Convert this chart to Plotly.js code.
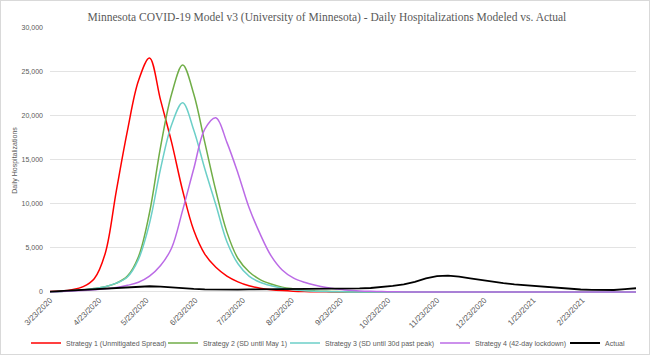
<!DOCTYPE html>
<html><head><meta charset="utf-8">
<script src="https://cdn.plot.ly/plotly-3.0.1.min.js"></script>
<style>
html,body{margin:0;padding:0;background:#fff;}
#chart{width:650px;height:355px;box-sizing:border-box;border:1px solid #D9D9D9;}
</style></head>
<body><div id="chart"></div>
<script>
const dates = ["2020-03-23","2020-03-30","2020-04-06","2020-04-13","2020-04-20","2020-04-27","2020-05-04","2020-05-11","2020-05-18","2020-05-25",
"2020-06-01","2020-06-08","2020-06-15","2020-06-22","2020-06-29","2020-07-06","2020-07-13","2020-07-20","2020-07-27","2020-08-03",
"2020-08-10","2020-08-17","2020-08-24","2020-08-31","2020-09-07","2020-09-14","2020-09-21","2020-09-28","2020-10-05","2020-10-12",
"2020-10-19","2020-10-26","2020-11-02","2020-11-09","2020-11-16","2020-11-23","2020-11-30","2020-12-07","2020-12-14","2020-12-21",
"2020-12-28","2021-01-04","2021-01-11","2021-01-18","2021-01-25","2021-02-01","2021-02-08","2021-02-15","2021-02-22","2021-03-01",
"2021-03-08","2021-03-15","2021-03-22","2021-03-29"];

const strategy1 = [50,100,250,600,1500,4400,11500,18300,24000,26600,
21800,17000,11500,7000,4300,2800,1800,1150,700,430,
260,150,80,40,20,10,0,0,0,0,
0,0,0,0,0,0,0,0,0,0,
0,0,0,0,0,0,0,0,0,0,
0,0,0,0];
const strategy2 = [20,60,130,240,380,600,1000,1800,4000,9000,
16500,22500,25800,22500,17000,11500,6800,3800,2300,1400,
900,550,350,200,120,70,40,20,0,0,
0,0,0,0,0,0,0,0,0,0,
0,0,0,0,0,0,0,0,0,0,
0,0,0,0];
const strategy3 = [20,60,130,240,380,600,1000,1700,3700,7800,
14000,19000,21500,18400,14000,9900,5700,3200,1800,1100,
700,420,250,140,80,40,20,0,0,0,
0,0,0,0,0,0,0,0,0,0,
0,0,0,0,0,0,0,0,0,0,
0,0,0,0];
const strategy4 = [20,50,100,170,260,350,500,750,1100,1800,
3000,5000,9300,14000,18500,19800,17000,13500,9600,6600,
4100,2500,1600,1100,750,500,340,200,120,70,
40,20,0,0,0,0,0,0,0,0,
0,0,0,0,0,0,0,0,0,0,
0,0,0,0];
const actual = [30,100,180,250,300,340,420,500,580,650,
600,500,400,340,300,270,260,270,290,300,
300,290,280,280,290,300,330,360,400,450,
550,680,850,1150,1550,1800,1850,1750,1550,1350,
1150,1000,850,750,650,550,400,330,280,230,
200,220,330,420];

const seriesNames = ["Strategy 1 (Unmitigated Spread)","Strategy 2 (SD until May 1)","Strategy 3 (SD until 30d past peak)","Strategy 4 (42-day lockdown)","Actual"];
const tickDates = ["2020-03-23","2020-04-23","2020-05-23","2020-06-23","2020-07-23","2020-08-23","2020-09-23","2020-10-23","2020-11-23","2020-12-23","2021-01-23","2021-02-23"];
const tickLabels = ["3/23/2020","4/23/2020","5/23/2020","6/23/2020","7/23/2020","8/23/2020","9/23/2020","10/23/2020","11/23/2020","12/23/2020","1/23/2021","2/23/2021"];

const colors = ["#FF0000","#70AD47","#6CCFC8","#BB6BE6","#000000"];
const legendIds = ["legend","legend2","legend3","legend4","legend5"];
const legendX = [0.0386,0.25,0.4383,0.6698,0.8704];
const allSeries = [strategy1,strategy2,strategy3,strategy4,actual];
const traces = allSeries.map((ys,i)=>({
  x: dates, y: ys, name: seriesNames[i], type:'scatter', mode:'lines', legend: legendIds[i],
  line:{color:colors[i], width: i===4?1.8:1.5, shape: i===4?'linear':'spline', smoothing:1}
}));

const legFont = {family:"Liberation Sans, sans-serif", size:7, color:'#595959'};
const layout = {
  width:648, height:353,
  margin:{l:49,r:13,t:27,b:61, autoexpand:false},
  paper_bgcolor:'#fff', plot_bgcolor:'#fff',
  title:{text:"Minnesota COVID-19 Model v3 (University of Minnesota) - Daily Hospitalizations Modeled vs. Actual",
    font:{family:"Liberation Serif, serif", size:11.5, color:'#595959'}, x:0.503, xanchor:'center', y:0.955, yanchor:'middle'},
  xaxis:{type:'date', range:['2020-03-23','2021-03-29'], tickvals:tickDates, ticktext:tickLabels, tickangle:-45,
    showgrid:false, zeroline:false, showline:false, ticks:'',
    tickfont:{family:"Liberation Sans, sans-serif", size:8, color:'#595959'}},
  yaxis:{range:[-120,30000], dtick:5000, tick0:0, tickformat:',d', showgrid:true, gridcolor:'#E3E3E3', gridwidth:1,
    zeroline:false, showline:false, ticks:'', ticklabelstandoff:6,
    tickfont:{family:"Liberation Sans, sans-serif", size:7, color:'#595959'},
    title:{text:"Daily Hospitalizations", font:{family:"Liberation Sans, sans-serif", size:7, color:'#595959'}, standoff:3}},
  showlegend:true
};
legendIds.forEach((id,i)=>{
  layout[id] = {orientation:'h', xref:'container', yref:'container', x:legendX[i], xanchor:'left', y:0.0312, yanchor:'middle',
    font:legFont, bgcolor:'rgba(0,0,0,0)', borderwidth:0};
});
Plotly.newPlot('chart', traces, layout, {displayModeBar:false, staticPlot:true});
</script></body></html>
